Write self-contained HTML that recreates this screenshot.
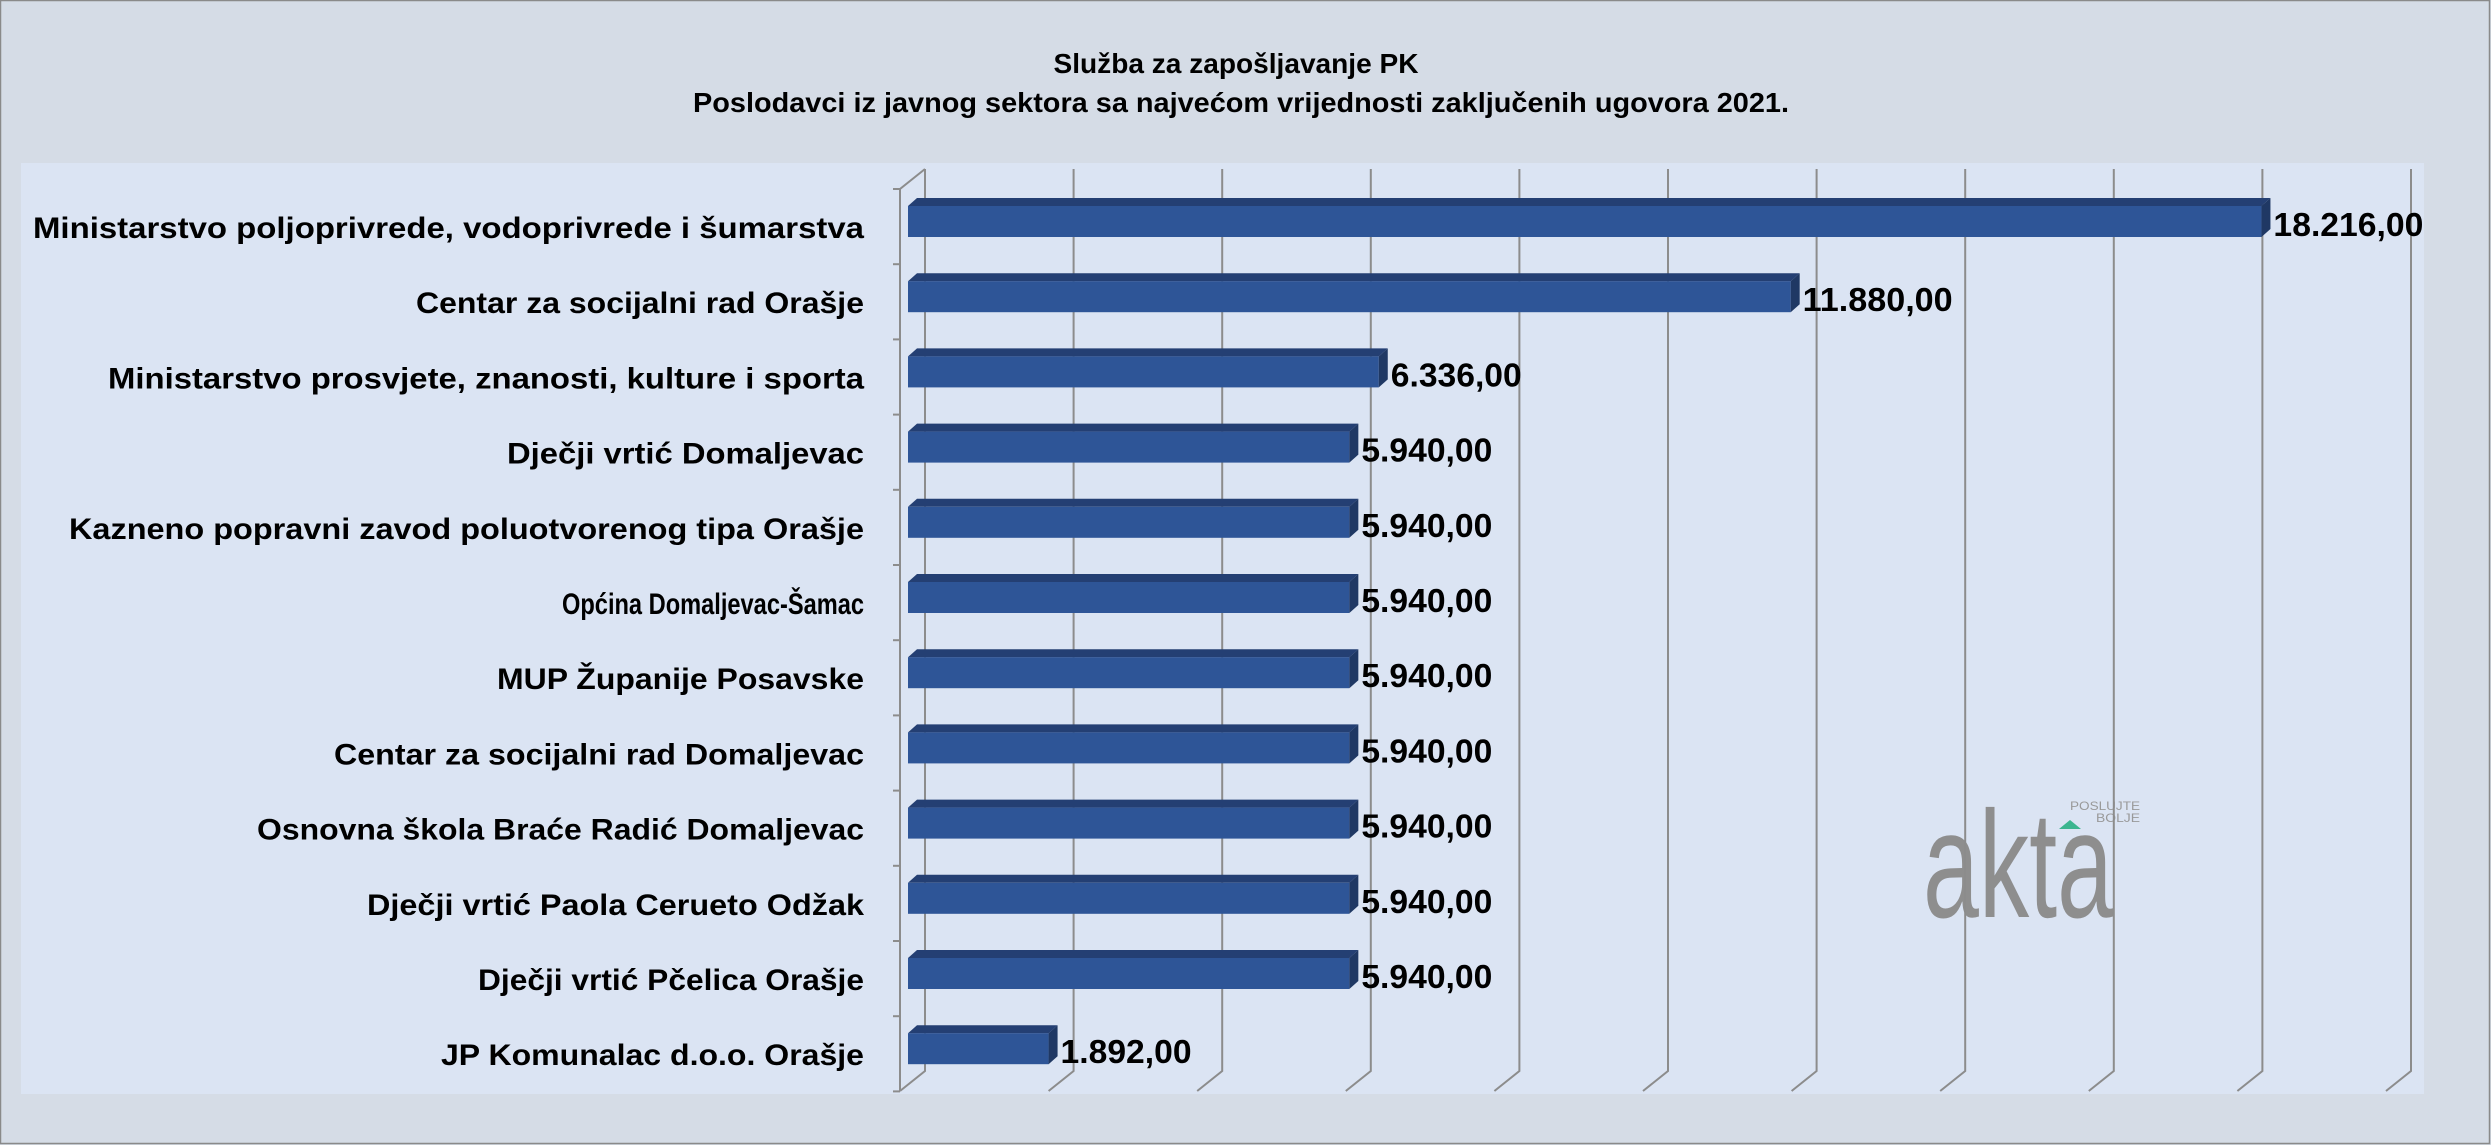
<!DOCTYPE html>
<html><head><meta charset="utf-8"><style>html,body{margin:0;padding:0;background:#d5dce6}svg{display:block}</style></head>
<body>
<svg width="2491" height="1145" viewBox="0 0 2491 1145" xmlns="http://www.w3.org/2000/svg" font-family="'Liberation Sans', sans-serif">
<rect x="0.5" y="0.5" width="2489" height="1143" fill="#d5dce6" stroke="#8a8a8a" stroke-width="1.5"/>
<text x="1236" y="73" font-size="28" font-weight="bold" text-anchor="middle" textLength="365" lengthAdjust="spacingAndGlyphs">Služba za zapošljavanje  PK</text>
<text x="1241" y="112" font-size="28" font-weight="bold" text-anchor="middle" textLength="1096" lengthAdjust="spacingAndGlyphs">Poslodavci iz javnog sektora sa najvećom vrijednosti zaključenih ugovora 2021.</text>
<rect x="21" y="163" width="2403" height="931" fill="#dbe4f3"/>
<!-- logo -->
<text x="1923" y="917" font-size="152" fill="#8e8e8e" textLength="190" lengthAdjust="spacingAndGlyphs">akta</text>
<polygon points="2059,829 2081,829 2070,820" fill="#3cb58f"/>
<text x="2070" y="810" font-size="12" fill="#999" textLength="70" lengthAdjust="spacingAndGlyphs">POSLUJTE</text>
<text x="2096" y="822" font-size="12" fill="#999" textLength="44" lengthAdjust="spacingAndGlyphs">BOLJE</text>
<g id="grid" stroke="#8c8c8c" stroke-width="2" fill="none"></g>
<g id="bars"></g>
<g id="labels" font-weight="bold" font-size="30"></g>
<script>
var ns="http://www.w3.org/2000/svg";
function el(p,t,a,txt){var e=document.createElementNS(ns,t);for(var k in a)e.setAttribute(k,a[k]);if(txt)e.textContent=txt;document.getElementById(p).appendChild(e);}
for(var i=0;i<=10;i++){var x=925+148.6*i;el("grid","polyline",{points:x+",169 "+x+",1071 "+(x-25)+",1091"});}
el("grid","polyline",{points:"925,169 900,189 900,1091"});
for(var k=0;k<=12;k++){var y=189+75.2*k;el("grid","line",{x1:893,y1:y,x2:900,y2:y});}
var data=[["Ministarstvo poljoprivrede, vodoprivrede i šumarstva",18216,"18.216,00",33],
["Centar za socijalni rad Orašje",11880,"11.880,00",416],
["Ministarstvo prosvjete, znanosti, kulture i sporta",6336,"6.336,00",108],
["Dječji vrtić Domaljevac",5940,"5.940,00",507],
["Kazneno popravni zavod poluotvorenog tipa Orašje",5940,"5.940,00",69],
["Općina Domaljevac-Šamac",5940,"5.940,00",562],
["MUP Županije Posavske",5940,"5.940,00",497],
["Centar za socijalni rad Domaljevac",5940,"5.940,00",334],
["Osnovna škola Braće Radić Domaljevac",5940,"5.940,00",257],
["Dječji vrtić Paola Cerueto Odžak",5940,"5.940,00",367],
["Dječji vrtić Pčelica Orašje",5940,"5.940,00",478],
["JP Komunalac d.o.o. Orašje",1892,"1.892,00",441]];
data.forEach(function(d,k){
 var t=206+75.2*k,b=t+31,x0=908,x1=908+d[1]*0.0743;
 el("bars","polygon",{points:x0+","+t+" "+(x0+9)+","+(t-8)+" "+(x1+9)+","+(t-8)+" "+x1+","+t,fill:"#243f73"});
 el("bars","rect",{x:x0,y:t,width:x1-x0,height:31,fill:"#2e5597"});
 el("bars","polygon",{points:x1+","+t+" "+(x1+9)+","+(t-8)+" "+(x1+9)+","+(b-8)+" "+x1+","+b,fill:"#1f3864"});
 el("labels","text",{x:d[3],y:b+1,textLength:864-d[3],lengthAdjust:"spacingAndGlyphs"},d[0]);
 var w=d[2].length==9?150:131;
 el("labels","text",{x:x1+12,y:b-1,"font-size":33,textLength:w,lengthAdjust:"spacingAndGlyphs"},d[2]);
});
</script>
</svg>
</body></html>
